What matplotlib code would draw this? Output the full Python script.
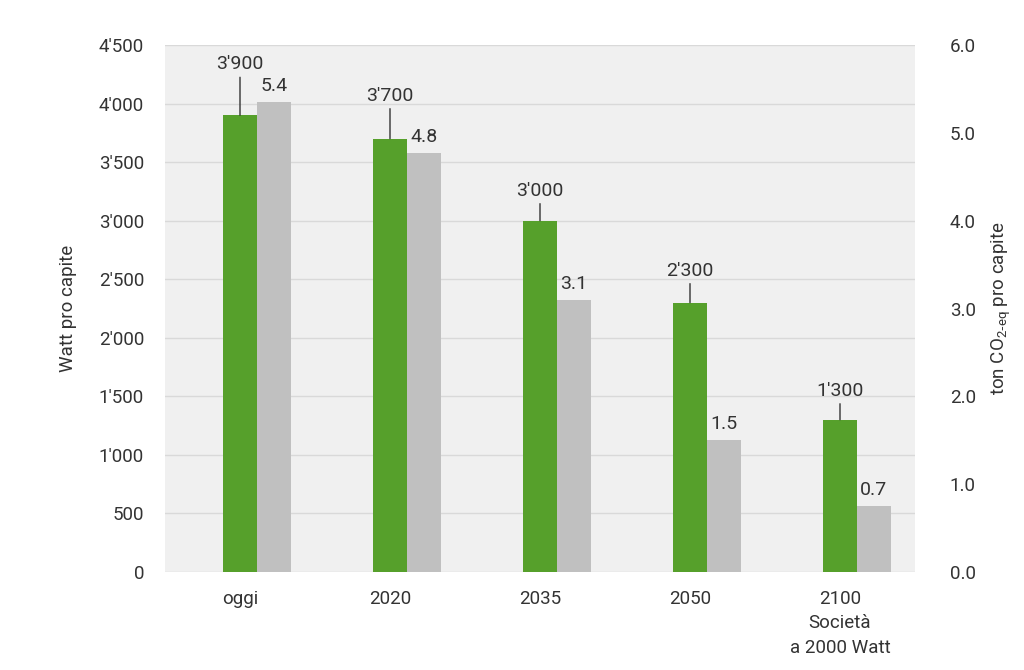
import matplotlib.pyplot as plt
import matplotlib.ticker as mticker
import numpy as np

plt.rcParams['font.family'] = ['Roboto', 'DejaVu Sans']

# -----------------------------
# Data
# -----------------------------
categories = ["oggi", "2020", "2035", "2050", "2100\nSocietà\na 2000 Watt"]
watt = [3900, 3700, 3000, 2300, 1300]
watt_labels = ["3'900", "3'700", "3'000", "2'300", "1'300"]
co2 = [5.35, 4.77, 3.1, 1.5, 0.75]
co2_labels = ["5.4", "4.8", "3.1", "1.5", "0.7"]

GREEN = "#56a02b"
GREY = "#c0c0c0"
TXT = "#333333"


def apos(v, pos):
    return f"{int(v):,}".replace(",", "'")


def main():
    fig = plt.figure(figsize=(10.24, 6.7), dpi=100)
    ax = fig.add_axes([165/1024, 1-572/670, 750/1024, 527/670])
    ax2 = ax.twinx()

    x = np.arange(len(categories))
    w = 0.225

    ax.set_facecolor("#f0f0f0")
    ax.bar(x, watt, width=w, color=GREEN, zorder=3)
    ax2.bar(x + w, co2, width=w, color=GREY, zorder=3)

    ax.set_xlim(-0.5, len(categories) - 0.5)
    ax.set_ylim(0, 4500)
    ax2.set_ylim(0, 6)
    ax.yaxis.set_major_locator(mticker.MultipleLocator(500))
    ax.yaxis.set_major_formatter(mticker.FuncFormatter(apos))
    ax2.yaxis.set_major_locator(mticker.MultipleLocator(1))
    ax2.yaxis.set_major_formatter(mticker.FormatStrFormatter("%.1f"))
    ax.grid(axis="y", color="#d9d9d9", lw=1, zorder=0)

    for a in (ax, ax2):
        for s in a.spines.values():
            s.set_visible(False)
        a.tick_params(length=0, labelsize=13.5, colors=TXT)
    ax.tick_params(axis="y", pad=15)
    ax2.tick_params(axis="y", pad=25)
    ax.set_xticks(x)
    ax.set_xticklabels(categories, linespacing=1.45)
    ax.tick_params(axis="x", pad=13)

    ax.set_ylabel("Watt pro capite", fontsize=13.5, color=TXT, labelpad=16)
    ax2.set_ylabel("ton CO$_{\\mathregular{2\\text{-}eq}}$ pro capite", fontsize=13.5,
                   color=TXT, labelpad=10)

    # leader line lengths in pixels (as drawn in the source chart)
    lead_px = [38, 30, 17, 19, 16]
    for xi, v, lab, ln in zip(x, watt, watt_labels, lead_px):
        ax.annotate("", xy=(xi, v), xytext=(0, ln * 0.72), textcoords="offset points",
                    arrowprops=dict(arrowstyle="-", color="#333333", lw=1,
                                    shrinkA=0, shrinkB=0), zorder=4)
        ax.annotate(lab, xy=(xi, v), xytext=(0, (ln + 8) * 0.72),
                    textcoords="offset points", ha="center", va="baseline",
                    fontsize=14, color=TXT)
    for xi, v, lab in zip(x, co2, co2_labels):
        ax2.annotate(lab, xy=(xi + w, v), xytext=(0, 11 * 0.72),
                     textcoords="offset points", ha="center", va="baseline",
                     fontsize=14, color=TXT)

    fig.savefig("out.png", dpi=100)


if __name__ == "__main__":
    main()
